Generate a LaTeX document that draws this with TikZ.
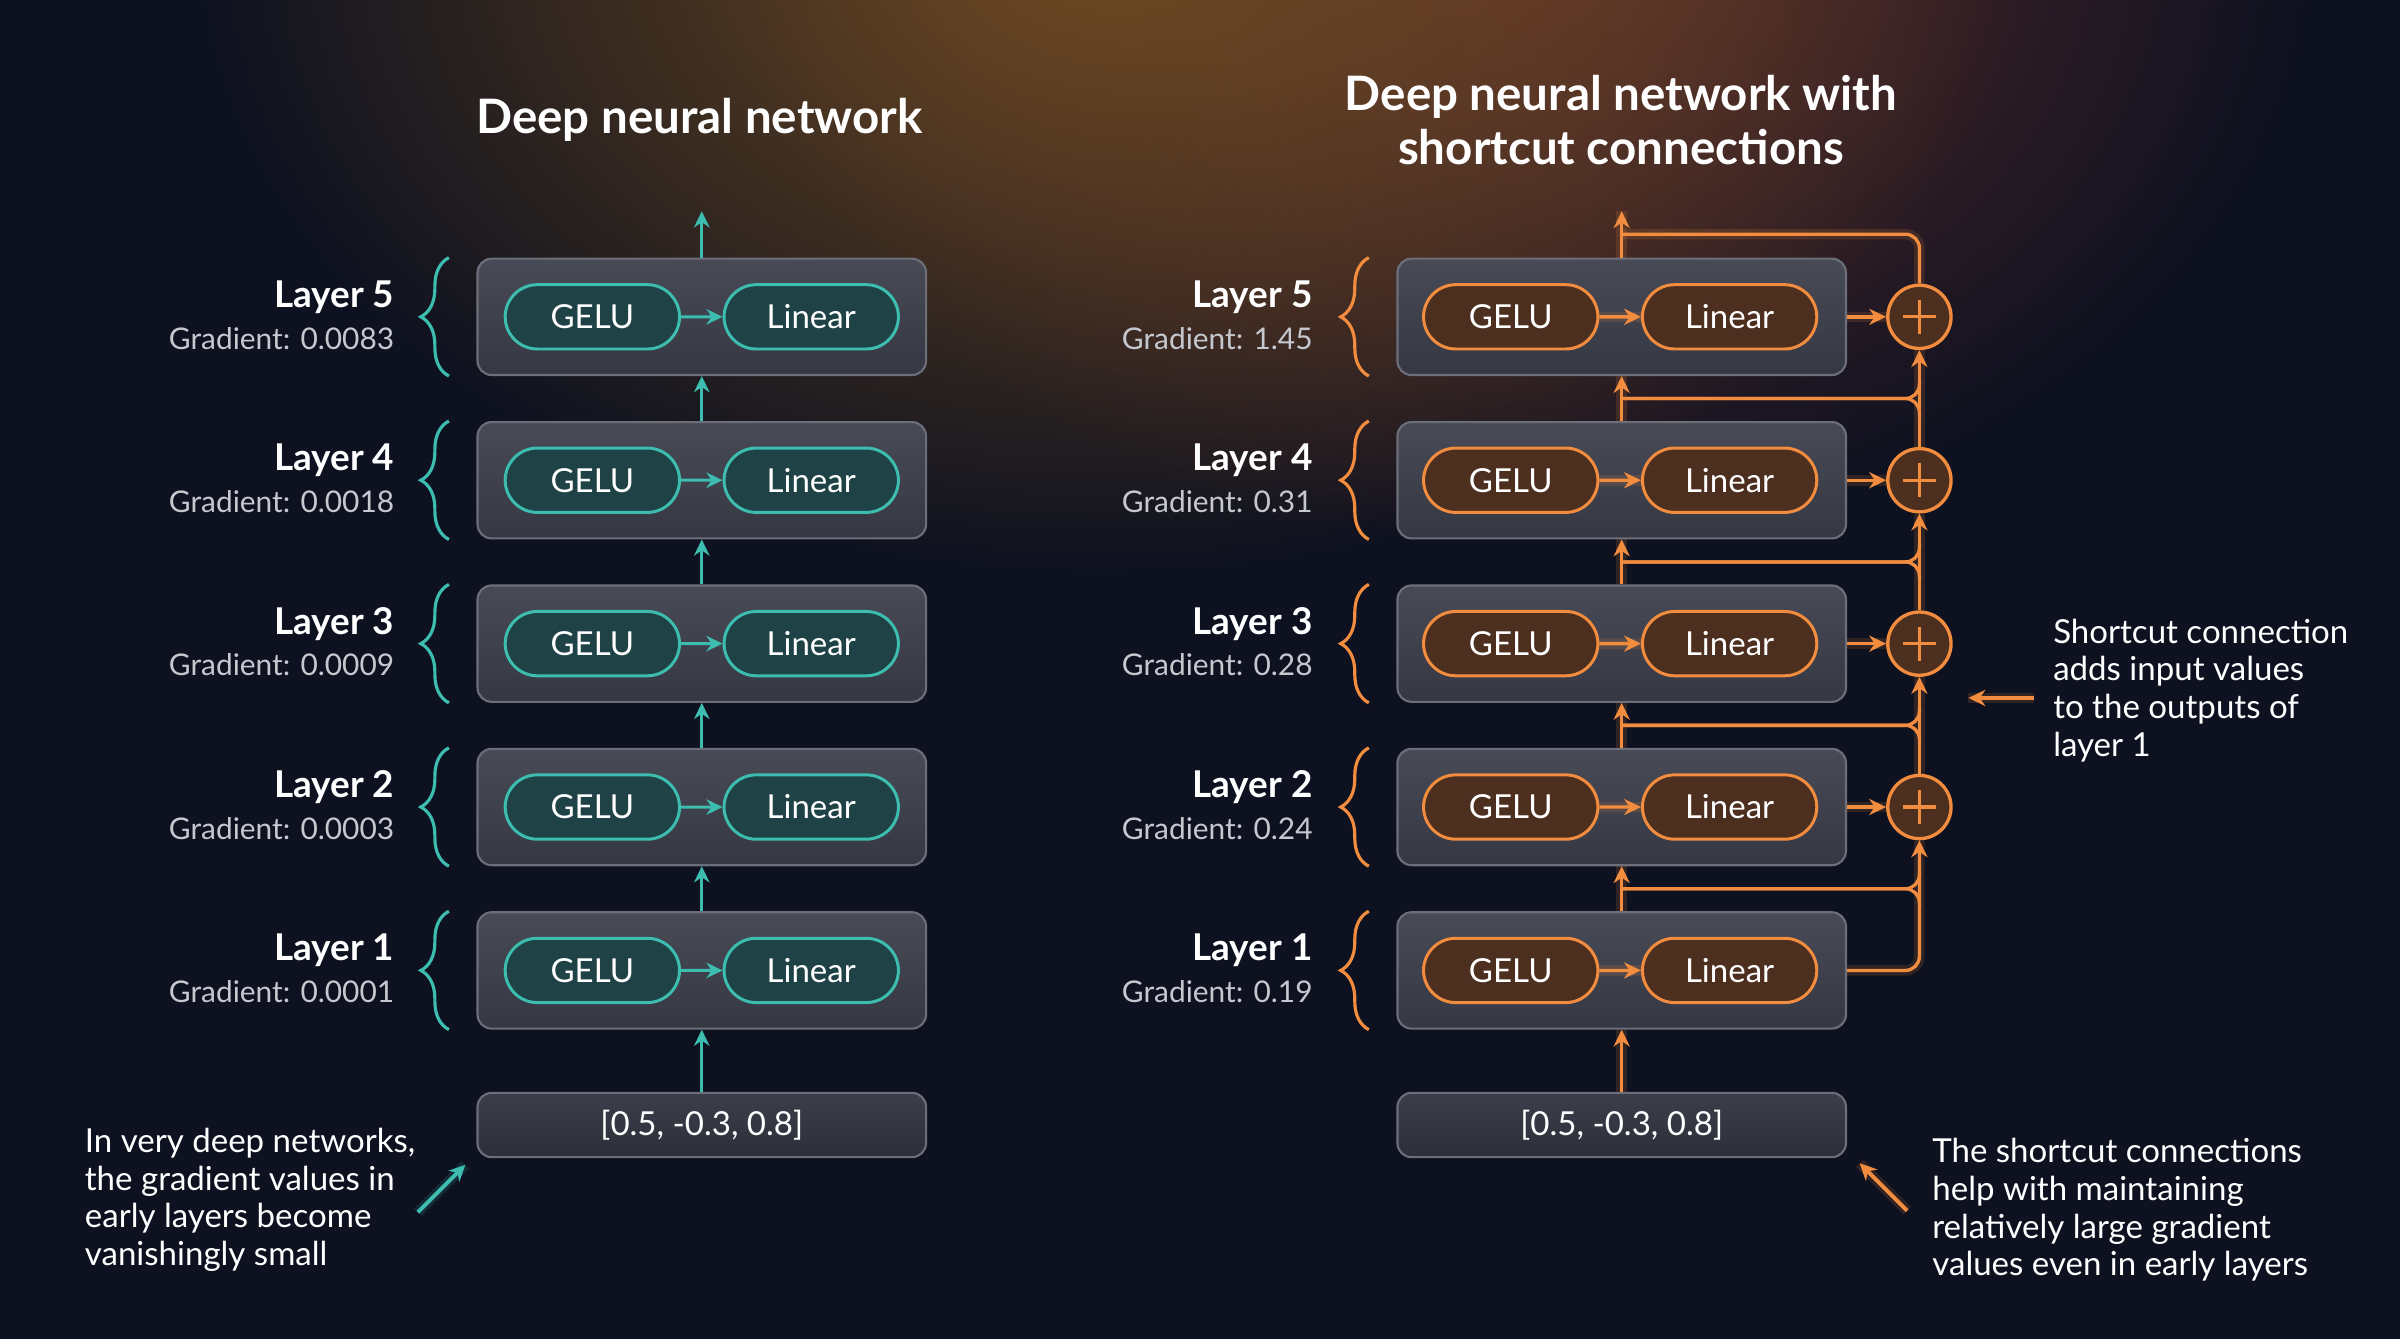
\documentclass[tikz,border=0pt]{standalone}
\usepackage{fontspec}
\setmainfont{Lato}
\usetikzlibrary{arrows.meta,decorations.pathreplacing,calc,shapes.misc,fadings}
\tikzfading[name=glowfade, inner color=transparent!0, outer color=transparent!100]
\definecolor{bg}{HTML}{0D1120}
\definecolor{glowbrown}{HTML}{6E4A22}
\definecolor{glowred}{HTML}{5E2E2C}
\definecolor{boxtop}{HTML}{484A56}
\definecolor{boxbot}{HTML}{353743}
\definecolor{boxedge}{HTML}{6C6F7A}
\definecolor{inTop}{HTML}{3C3E4A}
\definecolor{inBot}{HTML}{2C2E3A}
\definecolor{tealc}{HTML}{3DBDB0}
\definecolor{tealfill}{HTML}{1E4245}
\definecolor{orangec}{HTML}{F28C3E}
\definecolor{orangefill}{HTML}{4D2F20}
\definecolor{gradtxt}{HTML}{C6C8CF}
\begin{document}
\begin{tikzpicture}[x=0.015306cm,y=-0.015306cm,
  layerbox/.style={rounded corners=4pt, draw=boxedge, line width=0.6pt, top color=boxtop, bottom color=boxbot, minimum width=127.6pt, minimum height=33.1pt, inner sep=0pt},
  inbox/.style={layerbox, minimum height=18.3pt, top color=inTop, bottom color=inBot, text=white, font=\fontsize{9.4}{11}\selectfont},
  pillbase/.style={rounded rectangle, line width=0.85pt, minimum width=49.6pt, minimum height=18.3pt, inner sep=0pt, text=white, font=\fontsize{9.4}{11}\selectfont},
  tpill/.style={pillbase, draw=tealc, fill=tealfill},
  opill/.style={pillbase, draw=orangec, fill=orangefill},
  lname/.style={anchor=east, inner sep=0pt, text=white, font=\fontsize{10.5}{12}\selectfont\bfseries},
  gname/.style={anchor=east, inner sep=0pt, text=gradtxt, font=\fontsize{8.5}{10}\selectfont},
  titlefont/.style={text=white, inner sep=0pt, align=center, font=\fontsize{13.5}{15.2}\selectfont\bfseries},
  note/.style={text=white, inner sep=0pt, align=left, anchor=west, font=\fontsize{9.4}{10.7}\selectfont},
  tarrow/.style={draw=tealc, line width=0.85pt, -{Stealth[length=4.6pt,width=4.4pt]}},
  oglow/.style={preaction={draw=orangec, line width=3pt, draw opacity=0.15, arrows=-}},
  oline/.style={draw=orangec, line width=0.95pt, oglow},
  oarrow/.style={oline, -{Stealth[length=4.8pt,width=4.6pt]}},
  bracet/.style={draw=tealc, line width=0.9pt, decorate, decoration={brace, amplitude=8pt}},
  braceo/.style={draw=orangec, line width=0.9pt, decorate, decoration={brace, amplitude=8pt}},
  plusn/.style={circle, draw=orangec, fill=orangefill, line width=0.95pt, minimum size=18pt, inner sep=0pt,
    path picture={\draw[orangec, line width=0.9pt] ($(path picture bounding box.center)+(-4.8pt,0)$) -- ($(path picture bounding box.center)+(4.8pt,0)$) ($(path picture bounding box.center)+(0,-4.8pt)$) -- ($(path picture bounding box.center)+(0,4.8pt)$);}}
]
\useasboundingbox (0,0) rectangle (1568,875);
\fill[bg] (0,0) rectangle (1568,875);
\begin{scope}
  \clip (0,0) rectangle (1568,875);
  \fill[glowred, path fading=glowfade] (1000,-40) ellipse [x radius=520, y radius=400];
  \fill[glowbrown, path fading=glowfade] (720,-40) ellipse [x radius=600, y radius=420];
\end{scope}

% titles
\node[titlefont] (T1) at (457,78) {Deep neural network};
\node[titlefont] (T2) at (1059,78.5) {Deep neural network with\\shortcut connections};

% ---------- left column ----------
\foreach \i/\g in {1/0.0001, 2/0.0003, 3/0.0009, 4/0.0018, 5/0.0083} {
  \pgfmathsetmacro\yy{634-(\i-1)*106.75}
  \node[layerbox] (L\i) at (458.5,\yy) {};
  \node[tpill] (LG\i) at (387,\yy) {GELU};
  \node[tpill] (LL\i) at (530,\yy) {Linear};
  \draw[tarrow] (LG\i) -- (LL\i);
  \node[lname] (LN\i) at (258,\yy-13) {Layer \i};
  \node[gname] (LD\i) at (258,\yy+14) {Gradient: \g};
  \draw[bracet] ($(L\i.south west)+(-18,0)$) -- ($(L\i.north west)+(-18,0)$);
}
\node[inbox] (Lin) at (458.5,735) {[0.5, -0.3, 0.8]};
\draw[tarrow] (Lin.north) -- (L1.south);
\foreach \i/\j in {1/2,2/3,3/4,4/5} \draw[tarrow] (L\i.north) -- (L\j.south);
\coordinate (Ltop) at (458.5,138);
\draw[tarrow] (L5.north) -- (Ltop);

% ---------- right column ----------
\foreach \i/\g in {1/0.19, 2/0.24, 3/0.28, 4/0.31, 5/1.45} {
  \pgfmathsetmacro\yy{634-(\i-1)*106.75}
  \node[layerbox] (R\i) at (1059.5,\yy) {};
  \node[opill] (RG\i) at (987,\yy) {GELU};
  \node[opill] (RL\i) at (1130,\yy) {Linear};
  \draw[oarrow] (RG\i) -- (RL\i);
  \node[lname] (RN\i) at (858,\yy-13) {Layer \i};
  \node[gname] (RD\i) at (858,\yy+14) {Gradient: \g};
  \draw[braceo] ($(R\i.south west)+(-18,0)$) -- ($(R\i.north west)+(-18,0)$);
}
\foreach \i in {2,...,5} {
  \pgfmathsetmacro\yy{634-(\i-1)*106.75}
  \node[plusn] (P\i) at (1254,\yy) {};
  \draw[oarrow] (R\i.east) -- (P\i.west);
}
\node[inbox] (Rin) at (1059.5,735) {[0.5, -0.3, 0.8]};
\draw[oarrow] (Rin.north) -- (R1.south);
% vertical main path
\foreach \i/\j in {1/2,2/3,3/4,4/5} {
  \draw[oarrow] (R\i.north) -- (R\j.south);
  \coordinate (J\i) at ($(R\i.north)!0.5!(R\j.south)$);
  \draw[draw=orangec, line width=0.95pt, rounded corners=4pt] (J\i) -| ($(J\i -| P\j.south)+(0,-12)$);
  \draw[draw=orangec, line width=0.95pt, rounded corners=4pt] (J\i) -| ($(J\i -| P\j.south)+(0,12)$);
}
\draw[oarrow, rounded corners=4pt] (R1.east) -| (P2.south);
\foreach \i/\j in {2/3,3/4,4/5} \draw[oarrow] (P\i.north) -- (P\j.south);
\coordinate (Rtop) at (1059.5,138);
\coordinate (Jt) at (1059.5,153);
\draw[oarrow] (R5.north) -- (Rtop);
\draw[oline, rounded corners=4pt] (P5.north) |- (Jt);

% ---------- notes ----------
\node[note] (N1) at (55,784) {In very deep networks,\\the gradient values in\\early layers become\\vanishingly small};
\coordinate (ta1) at (273,792);
\coordinate (ta2) at (304,761);
\draw[draw=tealc, line width=3pt, draw opacity=0.15] (ta1) -- (ta2);
\draw[tarrow, line width=1.1pt] (ta1) -- (ta2);

\node[note] (N2) at (1341,451) {Shortcut connection\\adds input values\\to the outputs of\\layer 1};
\coordinate (oa1) at (1329,456);
\coordinate (oa2) at (1286,456);
\draw[oarrow, line width=1.1pt] (oa1) -- (oa2);

\node[note] (N3) at (1262,790.5) {The shortcut connections\\help with maintaining\\relatively large gradient\\values even in early layers};
\coordinate (ob1) at (1246,791);
\coordinate (ob2) at (1215,760);
\draw[oarrow, line width=1.1pt] (ob1) -- (ob2);
\end{tikzpicture}
\end{document}
